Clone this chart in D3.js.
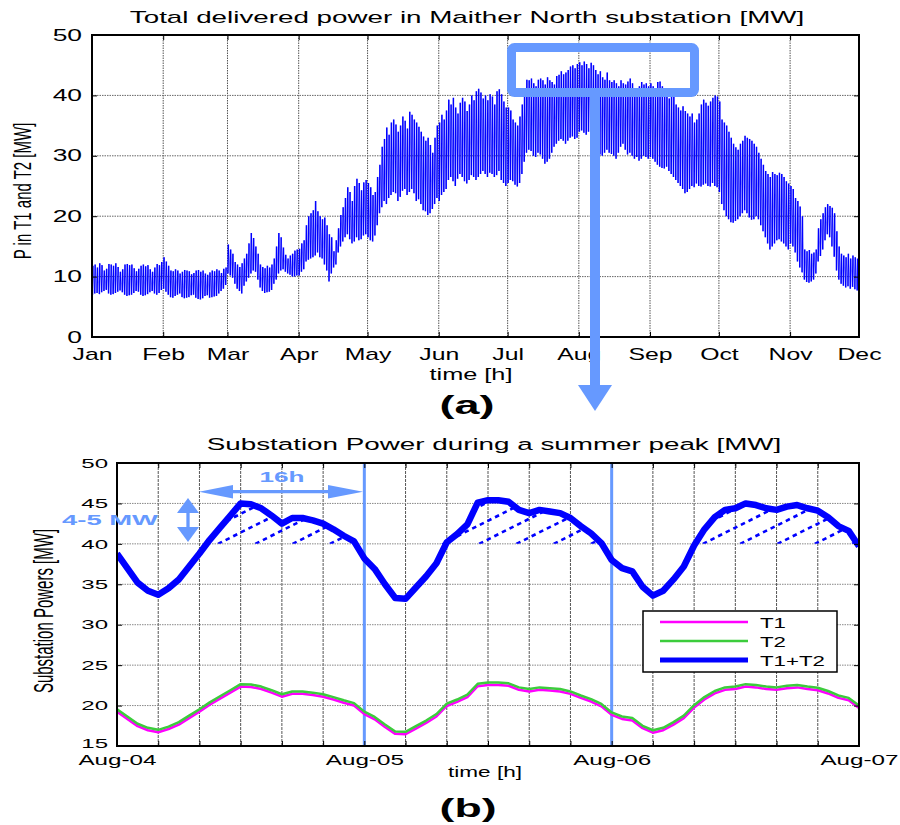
<!DOCTYPE html>
<html><head><meta charset="utf-8">
<script src="https://cdn.jsdelivr.net/npm/d3@7"></script>
<style>
body{margin:0;background:#fff;}
svg{display:block;font-family:"Liberation Sans",Arial,Helvetica,sans-serif;}
</style></head><body>
<svg id="c" width="900" height="825"></svg>
<script>
// ---------------- DATA ----------------
const monthLabels = ["Jan","Feb","Mar","Apr","May","Jun","Jul","Aug","Sep","Oct","Nov","Dec"];
const topYTicks = [0,10,20,30,40,50];

// Daily maximum of total delivered power [MW], Jan 1 .. Nov 30
const dailyMax = [
 // Jan
 11.8,12.0,11.5,12.2,11.9,11.0,11.3,12.1,12.0,11.8,12.2,11.6,10.8,11.2,12.0,12.1,11.9,12.0,11.4,10.9,11.3,11.8,12.0,11.7,11.9,11.2,10.8,11.5,12.1,11.9,12.4,
 // Feb
 13.2,12.5,11.8,11.0,10.9,11.2,11.0,10.5,10.8,11.1,11.0,10.9,10.4,10.6,11.0,11.1,10.8,11.0,10.5,10.3,10.7,11.0,10.9,11.2,11.0,10.6,11.3,11.5,
 // Mar
 15.3,14.5,13.8,12.4,12.0,11.6,12.2,13.0,13.8,15.5,17.2,16.4,15.0,13.8,12.0,11.6,11.4,11.8,11.5,12.0,13.0,15.0,17.2,16.5,14.8,13.6,13.0,13.5,13.8,14.3,14.5,
 // Apr
 14.6,15.5,16.0,18.5,20.0,20.5,21.0,22.5,20.8,20.0,19.5,19.8,18.5,17.0,16.5,14.2,16.0,18.0,20.2,21.5,23.0,24.8,24.0,22.5,25.0,26.2,25.5,24.3,25.6,26.0,
 // May
 25.5,24.8,23.5,24.0,26.5,28.5,31.5,32.8,34.7,33.5,35.5,36.0,35.2,34.0,35.0,36.5,35.8,34.5,37.3,36.8,36.0,35.5,34.8,34.0,33.2,32.5,33.0,31.8,30.5,33.0,35.0,
 // Jun
 35.5,36.8,36.0,37.5,39.3,38.5,39.6,38.0,37.0,38.8,39.6,39.0,37.4,38.5,40.0,39.2,40.7,41.1,40.5,39.5,40.0,39.2,40.2,39.8,38.5,40.7,41.0,40.2,39.0,38.0,
 // Jul
 38.0,37.5,36.0,35.5,35.0,36.5,38.5,40.5,42.6,42.5,42.8,42.0,41.5,42.6,42.8,42.5,41.8,43.0,42.5,42.2,41.8,43.2,43.4,44.0,43.5,43.8,44.2,44.8,45.0,44.5,45.2,
 // Aug
 45.5,45.0,45.6,45.2,44.5,45.4,45.0,44.2,43.5,44.0,43.0,42.6,43.8,42.5,42.2,42.5,42.0,41.5,42.5,42.0,41.8,42.3,42.8,42.0,41.0,40.8,41.5,42.2,41.8,42.0,41.5,
 // Sep
 42.0,41.5,41.0,42.2,42.3,41.5,40.5,40.0,39.5,40.2,39.8,38.5,38.0,37.5,38.2,37.4,37.0,36.5,37.0,35.5,36.0,37.0,38.5,39.3,38.8,38.3,39.0,39.6,40.0,39.8,
 // Oct
 39.0,36.0,35.5,35.0,34.0,33.0,32.0,31.4,31.0,32.0,32.5,33.3,33.0,32.8,32.5,32.0,31.5,30.5,29.5,28.5,27.5,27.0,26.5,27.3,27.0,26.8,27.2,27.0,26.5,25.8,25.4,
 // Nov
 25.0,24.5,23.0,22.5,21.6,20.0,14.5,14.2,14.4,13.8,14.0,14.5,18.0,19.5,20.5,21.5,22.0,21.7,21.4,20.5,17.5,15.0,13.8,13.5,13.2,13.8,13.0,13.5,13.2,13.0
];
// Daily minimum of total delivered power [MW]
const dailyMin = [
 // Jan
 7.0,7.2,7.3,7.1,7.4,7.6,7.8,7.2,7.0,7.1,7.3,7.5,7.7,7.4,7.0,6.8,6.9,7.0,7.3,7.6,7.5,7.0,6.8,6.9,7.1,7.4,7.6,7.2,7.0,7.3,7.8,
 // Feb
 8.0,7.5,7.0,6.6,6.5,6.8,7.0,7.2,6.6,6.4,6.5,6.6,6.9,7.0,6.5,6.3,6.2,6.4,6.8,6.9,6.5,6.6,6.7,6.8,7.2,7.6,8.0,8.6,
 // Mar
 10.5,10.2,9.8,8.8,8.0,7.6,7.2,8.5,9.2,9.8,10.5,11.0,10.8,9.5,8.2,7.6,7.3,7.4,7.5,7.8,8.8,9.5,10.5,11.0,11.2,10.8,10.5,10.3,10.0,10.0,10.2,
 // Apr
 10.2,10.8,11.2,12.5,12.8,13.0,13.2,13.5,14.0,13.2,13.0,12.0,11.0,9.2,10.5,11.5,12.0,14.0,15.0,15.8,16.5,17.0,16.2,15.5,15.8,16.5,16.0,16.2,16.8,17.0,
 // May
 16.5,16.0,15.8,16.8,18.5,20.5,21.5,22.5,22.0,23.0,23.5,24.0,23.8,22.5,23.2,24.2,24.5,23.5,24.0,24.5,23.8,22.5,22.8,22.0,21.0,20.8,20.2,20.5,21.2,22.0,23.0,
 // Jun
 22.5,23.5,24.0,24.5,26.0,26.5,25.8,25.0,26.2,27.0,26.5,25.8,25.4,26.0,26.8,26.5,26.0,26.5,27.0,27.5,27.0,26.5,27.2,27.0,26.5,26.8,27.5,26.0,25.5,25.0,
 // Jul
 25.5,26.0,25.8,25.2,24.9,25.5,27.0,29.0,30.5,31.0,30.8,30.0,29.8,30.5,30.2,29.5,28.7,29.0,29.5,30.5,31.5,32.0,32.5,32.8,32.5,32.0,32.5,33.0,33.2,32.8,33.0,
 // Aug
 34.0,34.2,33.8,33.5,34.0,33.5,32.8,32.0,31.0,30.2,30.0,30.5,31.0,30.5,30.3,30.0,29.5,30.5,31.5,32.0,31.0,30.2,30.5,30.0,29.5,29.8,29.2,29.5,30.0,29.8,29.5,
 // Sep
 29.8,29.5,29.0,28.5,28.2,28.0,27.9,28.2,27.5,27.0,26.5,26.0,25.5,25.0,24.5,23.8,24.0,24.5,25.0,24.8,25.4,25.0,24.9,25.2,25.4,25.0,24.9,25.5,25.0,24.8,
 // Oct
 24.0,22.0,21.0,20.0,19.5,19.0,18.9,19.2,19.5,20.0,20.5,21.0,20.5,19.8,19.4,19.5,20.0,19.5,18.5,17.5,16.5,15.5,14.5,15.0,15.5,16.0,16.2,15.8,15.5,15.0,14.5,
 // Nov
 15.5,15.0,14.0,12.5,11.5,10.7,9.5,9.1,9.0,9.2,9.5,10.5,12.5,13.4,14.5,16.0,17.0,16.5,15.0,13.3,11.0,9.5,8.8,8.5,8.2,8.4,8.0,8.3,7.9,7.7
];

// Summer peak, hourly, Aug-04 00:00 .. Aug-07 00:00
const dayLabels = ["Aug-04","Aug-05","Aug-06","Aug-07"];
const bottomYTicks = [15,20,25,30,35,40,45,50];
const totalPower = [
 38.8,37.0,35.2,34.2,33.7,34.5,35.6,37.2,38.8,40.5,42.0,43.5,45.0,44.9,44.4,43.5,42.5,43.2,43.2,42.9,42.5,41.8,41.0,40.3,
 38.2,36.9,35.0,33.3,33.2,34.6,36.0,37.6,40.2,41.2,42.4,45.1,45.4,45.4,45.2,44.2,43.8,44.2,44.0,43.8,43.2,42.2,41.3,40.1,
 38.0,37.0,36.6,34.7,33.6,34.2,35.6,37.2,39.8,41.8,43.3,44.2,44.4,45.0,44.8,44.4,44.2,44.6,44.8,44.4,44.1,43.3,42.2,41.6,
 39.7
];
const t1Power = [
 19.25,18.35,17.45,16.95,16.7,17.1,17.65,18.45,19.25,20.1,20.85,21.6,22.35,22.3,22.05,21.6,21.1,21.45,21.45,21.3,21.1,20.75,20.35,20.0,
 18.95,18.3,17.35,16.5,16.45,17.15,17.85,18.65,19.95,20.45,21.05,22.4,22.55,22.55,22.45,21.95,21.75,21.95,21.85,21.75,21.45,20.95,20.5,19.9,
 18.85,18.35,18.15,17.2,16.65,16.95,17.65,18.45,19.75,20.75,21.5,21.95,22.05,22.35,22.25,22.05,21.95,22.15,22.25,22.05,21.9,21.5,20.95,20.65,
 19.7
];
const t2Power = [
 19.55,18.65,17.75,17.25,17.0,17.4,17.95,18.75,19.55,20.4,21.15,21.9,22.65,22.6,22.35,21.9,21.4,21.75,21.75,21.6,21.4,21.05,20.65,20.3,
 19.25,18.6,17.65,16.8,16.75,17.45,18.15,18.95,20.25,20.75,21.35,22.7,22.85,22.85,22.75,22.25,22.05,22.25,22.15,22.05,21.75,21.25,20.8,20.2,
 19.15,18.65,18.45,17.5,16.95,17.25,17.95,18.75,20.05,21.05,21.8,22.25,22.35,22.65,22.55,22.35,22.25,22.45,22.55,22.35,22.2,21.8,21.25,20.95,
 20.0
];
const seriesNames = ["T1","T2","T1+T2"];

// ---------------- DRAWING ----------------
const svg = d3.select("#c");
const defs = svg.append("defs");
const BLUE = "#0000ff", LB = "#6699ff", MAG = "#ff00ff", GRN = "#3ccc3c";
const FONT = '"Liberation Sans",Arial,Helvetica,sans-serif';

function stretchAxisText(g, sx, size){
  g.attr("font-family", FONT).attr("font-size", size);
  g.selectAll("text").attr("fill","#000").each(function(){
    const t = d3.select(this);
    const x = +t.attr("x") || 0;
    t.attr("x", x / sx).attr("transform", `scale(${sx},1)`);
  });
}
function fitText(x, y, str, size, width, opts = {}){
  const g = svg.append("g").attr("transform", `translate(${x},${y})`);
  const t = g.append("text").text(str)
    .attr("font-family", FONT).attr("font-size", size)
    .attr("font-weight", opts.bold ? "bold" : "normal")
    .attr("fill", opts.fill || "#000")
    .attr("text-anchor", opts.anchor || "middle");
  const len = t.node().getComputedTextLength();
  t.attr("transform", `scale(${width/len},1)`);
  return t;
}
function rotLabel(x, y, str, size, sx){
  svg.append("g").attr("transform", `translate(${x},${y}) scale(${sx},1) rotate(-90)`)
    .append("text").text(str).attr("font-family", FONT).attr("font-size", size)
    .attr("text-anchor","middle").attr("dominant-baseline","central").attr("fill","#000");
}

// ===== Top chart (a) =====
const T = {l:92, r:859, t:35, b:337};
const xT = d3.scaleTime().domain([new Date(2010,0,1), new Date(2010,11,1)]).range([T.l, T.r]);
const yT = d3.scaleLinear().domain([0,50]).range([T.b, T.t]);
const monthTicks = monthLabels.map((m,i) => new Date(2010, i, 1));

const gridT = svg.append("g");
gridT.selectAll("line.v").data(monthTicks.slice(1,-1)).join("line")
  .attr("x1", d => xT(d)).attr("x2", d => xT(d)).attr("y1", T.t).attr("y2", T.b)
  .attr("stroke","#555").attr("stroke-width",1).attr("stroke-dasharray","1.5,1");
gridT.selectAll("line.h").data(topYTicks.slice(1,-1)).join("line")
  .attr("x1", T.l).attr("x2", T.r).attr("y1", d => yT(d)).attr("y2", d => yT(d))
  .attr("stroke","#666").attr("stroke-width",1).attr("stroke-dasharray","1.5,1");

defs.append("clipPath").attr("id","clipT").append("rect")
  .attr("x",T.l).attr("y",T.t).attr("width",T.r-T.l).attr("height",T.b-T.t);

// daily swing: one stroke per day from the day's minimum to its maximum,
// and a thin connection from each day's maximum to the next day's minimum
const topG = svg.append("g").attr("clip-path","url(#clipT)");
const swings = dailyMin.map((mn, d) => ({
  x0: xT(new Date(2010,0,1+d,5)), x1: xT(new Date(2010,0,1+d,9)), lo: yT(mn), hi: yT(dailyMax[d])
}));
topG.append("path")
  .attr("d", swings.map(s => `M${s.x0},${s.lo}L${s.x1},${s.hi}`).join(""))
  .attr("fill","none").attr("stroke",BLUE).attr("stroke-width",1.5);
topG.append("path")
  .attr("d", swings.slice(0,-1).map((s,i) => `M${s.x1},${s.hi}L${swings[i+1].x0},${swings[i+1].lo}`).join(""))
  .attr("fill","none").attr("stroke",BLUE).attr("stroke-width",0.6).attr("stroke-opacity",0.7);

// axes
const axTB = svg.append("g").attr("transform",`translate(0,${T.b})`)
  .call(d3.axisBottom(xT).tickValues(monthTicks).tickFormat((d,i) => monthLabels[i])
    .tickSizeInner(-5).tickSizeOuter(0).tickPadding(12));
axTB.select(".domain").remove(); stretchAxisText(axTB, 1.55, 16);
const axTT = svg.append("g").attr("transform",`translate(0,${T.t})`)
  .call(d3.axisTop(xT).tickValues(monthTicks).tickFormat("").tickSizeInner(-5).tickSizeOuter(0));
axTT.select(".domain").remove();
const axTL = svg.append("g").attr("transform",`translate(${T.l},0)`)
  .call(d3.axisLeft(yT).tickValues(topYTicks).tickSizeInner(-5).tickSizeOuter(0).tickPadding(10));
axTL.select(".domain").remove(); stretchAxisText(axTL, 1.65, 16);
const axTR = svg.append("g").attr("transform",`translate(${T.r},0)`)
  .call(d3.axisRight(yT).tickValues(topYTicks).tickFormat("").tickSizeInner(-5).tickSizeOuter(0));
axTR.select(".domain").remove();
svg.append("rect").attr("x",T.l).attr("y",T.t).attr("width",T.r-T.l).attr("height",T.b-T.t)
  .attr("fill","none").attr("stroke","#000").attr("stroke-width",2);

fitText(467, 22.5, "Total delivered power in Maither North substation [MW]", 17, 675);
fitText(471, 380, "time [h]", 16, 83);
fitText(467, 414, "(a)", 25, 55, {bold:true});
rotLabel(23, 191, "P in T1 and T2 [MW]", 15, 1.6);

// highlight box and arrow
svg.append("rect").attr("x",511.5).attr("y",47.5).attr("width",183).attr("height",45).attr("rx",3)
  .attr("fill","none").attr("stroke",LB).attr("stroke-width",9);
svg.append("rect").attr("x",590).attr("y",92).attr("width",10).attr("height",293).attr("fill",LB);
svg.append("path").attr("d","M578,385 L612,385 L595,411 Z").attr("fill",LB);

// ===== Bottom chart (b) =====
const B = {l:117, r:859, t:463, b:746};
const hours = d3.range(totalPower.length);
const xB = d3.scaleLinear().domain([0,72]).range([B.l, B.r]);
const yB = d3.scaleLinear().domain([15,50]).range([B.b, B.t]);
const hourTicks = d3.range(0,73,4);

const gridB = svg.append("g");
gridB.selectAll("line.v").data(hourTicks.slice(1,-1)).join("line")
  .attr("x1", d => xB(d)).attr("x2", d => xB(d)).attr("y1", B.t).attr("y2", B.b)
  .attr("stroke","#555").attr("stroke-width",1).attr("stroke-dasharray","3,1");
gridB.selectAll("line.h").data(bottomYTicks.slice(1,-1)).join("line")
  .attr("x1", B.l).attr("x2", B.r).attr("y1", d => yB(d)).attr("y2", d => yB(d))
  .attr("stroke","#888").attr("stroke-width",1).attr("stroke-dasharray","1.5,1");

// hatched region above 40 MW
const y40 = yB(40);
defs.append("clipPath").attr("id","hatchClip").append("path")
  .attr("d", d3.area().x((d,i) => xB(hours[i])).y0(y40).y1(d => yB(Math.max(d,40)))(totalPower));
const hatch = svg.append("g").attr("clip-path","url(#hatchClip)");
for (let x0 = 218 - 37.3*4; x0 < 900; x0 += 37.3) {
  hatch.append("line").attr("x1",x0).attr("y1",y40).attr("x2",x0+110).attr("y2",y40-55)
    .attr("stroke",BLUE).attr("stroke-width",2.6).attr("stroke-dasharray","4.5,4");
}

// light-blue day markers
svg.selectAll("line.day").data([24,48]).join("line")
  .attr("x1", d => xB(d)).attr("x2", d => xB(d)).attr("y1", B.t).attr("y2", B.b)
  .attr("stroke",LB).attr("stroke-width",3);

defs.append("clipPath").attr("id","clipB").append("rect")
  .attr("x",B.l).attr("y",B.t).attr("width",B.r-B.l).attr("height",B.b-B.t);
const lineB = d3.line().x((d,i) => xB(hours[i])).y(d => yB(d));
const plotB = svg.append("g").attr("clip-path","url(#clipB)");
plotB.append("path").datum(totalPower).attr("d", lineB).attr("fill","none")
  .attr("stroke",BLUE).attr("stroke-width",6.5).attr("stroke-linejoin","round");
plotB.append("path").datum(t1Power).attr("d", lineB).attr("fill","none")
  .attr("stroke",MAG).attr("stroke-width",2.5).attr("stroke-linejoin","round");
plotB.append("path").datum(t2Power).attr("d", lineB).attr("fill","none")
  .attr("stroke",GRN).attr("stroke-width",2.5).attr("stroke-linejoin","round");

// axes
const axBB = svg.append("g").attr("transform",`translate(0,${B.b})`)
  .call(d3.axisBottom(xB).tickValues(hourTicks).tickFormat(d => d % 24 === 0 ? dayLabels[d/24] : "")
    .tickSizeInner(-5).tickSizeOuter(0).tickPadding(9));
axBB.select(".domain").remove(); stretchAxisText(axBB, 1.73, 14);
const axBT = svg.append("g").attr("transform",`translate(0,${B.t})`)
  .call(d3.axisTop(xB).tickValues(hourTicks).tickFormat("").tickSizeInner(-5).tickSizeOuter(0));
axBT.select(".domain").remove();
const axBL = svg.append("g").attr("transform",`translate(${B.l},0)`)
  .call(d3.axisLeft(yB).tickValues(bottomYTicks).tickSizeInner(-5).tickSizeOuter(0).tickPadding(9));
axBL.select(".domain").remove(); stretchAxisText(axBL, 1.85, 13);
axBL.selectAll(".tick").filter(d => d === 15).select("text").attr("dy","0.1em");
const axBR = svg.append("g").attr("transform",`translate(${B.r},0)`)
  .call(d3.axisRight(yB).tickValues(bottomYTicks).tickFormat("").tickSizeInner(-5).tickSizeOuter(0));
axBR.select(".domain").remove();
svg.selectAll(".tick line").attr("stroke","#000");
svg.append("rect").attr("x",B.l).attr("y",B.t).attr("width",B.r-B.l).attr("height",B.b-B.t)
  .attr("fill","none").attr("stroke","#000").attr("stroke-width",2);

fitText(494, 450, "Substation Power during a summer peak [MW]", 17, 575);
fitText(485, 777, "time [h]", 14, 74);
fitText(468, 817, "(b)", 25, 57, {bold:true});
rotLabel(44, 611, "Substation Powers [MW]", 15, 1.85);

// annotations
svg.append("line").attr("x1",225).attr("x2",340).attr("y1",491.7).attr("y2",491.7).attr("stroke",LB).attr("stroke-width",3.3);
svg.append("path").attr("d","M199,491.7 L233,485 L233,498.4 Z").attr("fill",LB);
svg.append("path").attr("d","M363,491.7 L328,485 L328,498.4 Z").attr("fill",LB);
fitText(282, 482, "16h", 14, 45, {bold:true, fill:LB});
svg.append("line").attr("x1",188).attr("x2",188).attr("y1",508).attr("y2",532).attr("stroke",LB).attr("stroke-width",3.3);
svg.append("path").attr("d","M188,498 L177,513 L199,513 Z").attr("fill",LB);
svg.append("path").attr("d","M188,542 L177,527 L199,527 Z").attr("fill",LB);
fitText(158, 525, "4-5 MW", 14, 96, {bold:true, fill:LB, anchor:"end"});

// legend
const leg = svg.append("g");
leg.append("rect").attr("x",643).attr("y",611).attr("width",194).attr("height",61)
  .attr("fill","#fff").attr("stroke","#000").attr("stroke-width",1.5);
const legColors = [MAG, GRN, BLUE], legWidths = [2.5, 2.5, 5], legY = [622, 641, 660];
seriesNames.forEach((n,i) => {
  leg.append("line").attr("x1",660).attr("x2",748).attr("y1",legY[i]).attr("y2",legY[i])
    .attr("stroke",legColors[i]).attr("stroke-width",legWidths[i]);
  fitText(760, legY[i]+5.5, n, 14, n.length * 13, {anchor:"start"});
});
</script>
</body></html>
